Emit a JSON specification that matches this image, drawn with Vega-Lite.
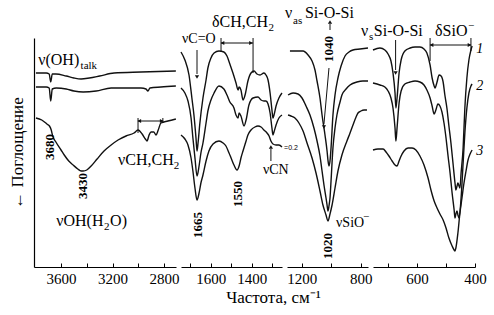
{
  "$schema": "https://vega.github.io/schema/vega-lite/v6.json",
  "padding": {"left": 8, "top": 5, "right": 0, "bottom": 0},
  "background": "white",
  "config": {
    "view": {"stroke": null},
    "axis": {"grid": false, "domainColor": "#000", "tickColor": "#000", "labelColor": "#000", "labelFont": "Liberation Serif", "labelFontSize": 15, "titleFont": "Liberation Serif", "titleFontWeight": "normal", "titleColor": "#000", "domainWidth": 1.2},
    "axisX": {"tickSize": -4, "labelPadding": 8, "labelFlush": false, "labelOverlap": false, "format": "d"},
    "text": {"font": "Liberation Serif", "color": "#000"}
  },
  "datasets": {
    "curves": [
      {"panel":1,"s":1,"f":3795,"y":193},{"panel":1,"s":1,"f":3715,"y":193},{"panel":1,"s":1,"f":3692,"y":192},{"panel":1,"s":1,"f":3680,"y":184},{"panel":1,"s":1,"f":3668,"y":192},{"panel":1,"s":1,"f":3640,"y":192},{"panel":1,"s":1,"f":3560,"y":190},{"panel":1,"s":1,"f":3500,"y":188},{"panel":1,"s":1,"f":3444,"y":187},{"panel":1,"s":1,"f":3380,"y":188},{"panel":1,"s":1,"f":3300,"y":190},{"panel":1,"s":1,"f":3188,"y":193},{"panel":1,"s":1,"f":2979,"y":194},{"panel":1,"s":1,"f":2708,"y":195},
      {"panel":1,"s":2,"f":3795,"y":179},{"panel":1,"s":2,"f":3715,"y":179},{"panel":1,"s":2,"f":3692,"y":178},{"panel":1,"s":2,"f":3680,"y":165},{"panel":1,"s":2,"f":3668,"y":177},{"panel":1,"s":2,"f":3637,"y":178},{"panel":1,"s":2,"f":3560,"y":177},{"panel":1,"s":2,"f":3500,"y":175},{"panel":1,"s":2,"f":3428,"y":174},{"panel":1,"s":2,"f":3327,"y":175},{"panel":1,"s":2,"f":3211,"y":178},{"panel":1,"s":2,"f":2979,"y":178},{"panel":1,"s":2,"f":2940,"y":177},{"panel":1,"s":2,"f":2925,"y":175},{"panel":1,"s":2,"f":2909,"y":178},{"panel":1,"s":2,"f":2824,"y":179},{"panel":1,"s":2,"f":2708,"y":180},
      {"panel":1,"s":3,"f":3795,"y":148},{"panel":1,"s":3,"f":3750,"y":146},{"panel":1,"s":3,"f":3710,"y":142},{"panel":1,"s":3,"f":3690,"y":140},{"panel":1,"s":3,"f":3676,"y":136},{"panel":1,"s":3,"f":3665,"y":130},{"panel":1,"s":3,"f":3640,"y":124},{"panel":1,"s":3,"f":3600,"y":116},{"panel":1,"s":3,"f":3575,"y":111},{"panel":1,"s":3,"f":3540,"y":105},{"panel":1,"s":3,"f":3506,"y":101},{"panel":1,"s":3,"f":3470,"y":97},{"panel":1,"s":3,"f":3444,"y":95},{"panel":1,"s":3,"f":3428,"y":95},{"panel":1,"s":3,"f":3400,"y":96},{"panel":1,"s":3,"f":3366,"y":100},{"panel":1,"s":3,"f":3320,"y":107},{"panel":1,"s":3,"f":3266,"y":115},{"panel":1,"s":3,"f":3211,"y":121},{"panel":1,"s":3,"f":3157,"y":126},{"panel":1,"s":3,"f":3095,"y":130},{"panel":1,"s":3,"f":3033,"y":133},{"panel":1,"s":3,"f":3002,"y":136},{"panel":1,"s":3,"f":2970,"y":132},{"panel":1,"s":3,"f":2945,"y":127},{"panel":1,"s":3,"f":2932,"y":125},{"panel":1,"s":3,"f":2916,"y":131},{"panel":1,"s":3,"f":2901,"y":134},{"panel":1,"s":3,"f":2880,"y":134},{"panel":1,"s":3,"f":2862,"y":131},{"panel":1,"s":3,"f":2845,"y":136},{"panel":1,"s":3,"f":2824,"y":143},{"panel":1,"s":3,"f":2770,"y":145},{"panel":1,"s":3,"f":2708,"y":147},

      {"panel":2,"s":1,"f":1745,"y":214},{"panel":2,"s":1,"f":1726,"y":206},{"panel":2,"s":1,"f":1706,"y":191},{"panel":2,"s":1,"f":1692,"y":168},{"panel":2,"s":1,"f":1682,"y":151},{"panel":2,"s":1,"f":1672,"y":128},{"panel":2,"s":1,"f":1667,"y":115},{"panel":2,"s":1,"f":1662,"y":123},{"panel":2,"s":1,"f":1653,"y":143},{"panel":2,"s":1,"f":1638,"y":168},{"panel":2,"s":1,"f":1623,"y":186},{"panel":2,"s":1,"f":1614,"y":198},{"panel":2,"s":1,"f":1599,"y":208},{"panel":2,"s":1,"f":1584,"y":213},{"panel":2,"s":1,"f":1560,"y":215},{"panel":2,"s":1,"f":1536,"y":214},{"panel":2,"s":1,"f":1521,"y":210},{"panel":2,"s":1,"f":1507,"y":202},{"panel":2,"s":1,"f":1492,"y":193},{"panel":2,"s":1,"f":1477,"y":183},{"panel":2,"s":1,"f":1467,"y":176},{"panel":2,"s":1,"f":1462,"y":179},{"panel":2,"s":1,"f":1453,"y":176},{"panel":2,"s":1,"f":1443,"y":166},{"panel":2,"s":1,"f":1433,"y":171},{"panel":2,"s":1,"f":1419,"y":185},{"panel":2,"s":1,"f":1404,"y":193},{"panel":2,"s":1,"f":1389,"y":195},{"panel":2,"s":1,"f":1375,"y":192},{"panel":2,"s":1,"f":1360,"y":191},{"panel":2,"s":1,"f":1341,"y":193},{"panel":2,"s":1,"f":1331,"y":191},{"panel":2,"s":1,"f":1321,"y":186},{"panel":2,"s":1,"f":1311,"y":173},{"panel":2,"s":1,"f":1302,"y":156},{"panel":2,"s":1,"f":1297,"y":148},{"panel":2,"s":1,"f":1292,"y":151},{"panel":2,"s":1,"f":1282,"y":160},{"panel":2,"s":1,"f":1268,"y":168},{"panel":2,"s":1,"f":1253,"y":173},
      {"panel":2,"s":2,"f":1745,"y":178},{"panel":2,"s":2,"f":1726,"y":173},{"panel":2,"s":2,"f":1711,"y":165},{"panel":2,"s":2,"f":1696,"y":148},{"panel":2,"s":2,"f":1687,"y":128},{"panel":2,"s":2,"f":1677,"y":108},{"panel":2,"s":2,"f":1667,"y":90},{"panel":2,"s":2,"f":1657,"y":100},{"panel":2,"s":2,"f":1648,"y":113},{"panel":2,"s":2,"f":1638,"y":123},{"panel":2,"s":2,"f":1623,"y":143},{"panel":2,"s":2,"f":1614,"y":155},{"panel":2,"s":2,"f":1599,"y":166},{"panel":2,"s":2,"f":1584,"y":173},{"panel":2,"s":2,"f":1560,"y":180},{"panel":2,"s":2,"f":1536,"y":177},{"panel":2,"s":2,"f":1521,"y":171},{"panel":2,"s":2,"f":1507,"y":164},{"panel":2,"s":2,"f":1487,"y":158},{"panel":2,"s":2,"f":1477,"y":151},{"panel":2,"s":2,"f":1467,"y":148},{"panel":2,"s":2,"f":1462,"y":153},{"panel":2,"s":2,"f":1453,"y":150},{"panel":2,"s":2,"f":1438,"y":140},{"panel":2,"s":2,"f":1428,"y":146},{"panel":2,"s":2,"f":1414,"y":161},{"panel":2,"s":2,"f":1394,"y":168},{"panel":2,"s":2,"f":1370,"y":169},{"panel":2,"s":2,"f":1355,"y":166},{"panel":2,"s":2,"f":1341,"y":165},{"panel":2,"s":2,"f":1331,"y":165},{"panel":2,"s":2,"f":1321,"y":162},{"panel":2,"s":2,"f":1311,"y":153},{"panel":2,"s":2,"f":1302,"y":138},{"panel":2,"s":2,"f":1297,"y":131},{"panel":2,"s":2,"f":1292,"y":134},{"panel":2,"s":2,"f":1282,"y":141},{"panel":2,"s":2,"f":1268,"y":148},{"panel":2,"s":2,"f":1253,"y":151},
      {"panel":2,"s":3,"f":1745,"y":131},{"panel":2,"s":3,"f":1726,"y":127},{"panel":2,"s":3,"f":1711,"y":121},{"panel":2,"s":3,"f":1696,"y":108},{"panel":2,"s":3,"f":1687,"y":95},{"panel":2,"s":3,"f":1677,"y":78},{"panel":2,"s":3,"f":1667,"y":66},{"panel":2,"s":3,"f":1657,"y":73},{"panel":2,"s":3,"f":1648,"y":83},{"panel":2,"s":3,"f":1638,"y":91},{"panel":2,"s":3,"f":1623,"y":105},{"panel":2,"s":3,"f":1609,"y":115},{"panel":2,"s":3,"f":1589,"y":122},{"panel":2,"s":3,"f":1560,"y":125},{"panel":2,"s":3,"f":1540,"y":123},{"panel":2,"s":3,"f":1526,"y":120},{"panel":2,"s":3,"f":1511,"y":113},{"panel":2,"s":3,"f":1501,"y":108},{"panel":2,"s":3,"f":1487,"y":101},{"panel":2,"s":3,"f":1472,"y":96},{"panel":2,"s":3,"f":1462,"y":100},{"panel":2,"s":3,"f":1453,"y":108},{"panel":2,"s":3,"f":1443,"y":115},{"panel":2,"s":3,"f":1428,"y":125},{"panel":2,"s":3,"f":1419,"y":131},{"panel":2,"s":3,"f":1404,"y":136},{"panel":2,"s":3,"f":1385,"y":139},{"panel":2,"s":3,"f":1370,"y":140},{"panel":2,"s":3,"f":1355,"y":139},{"panel":2,"s":3,"f":1341,"y":136},{"panel":2,"s":3,"f":1326,"y":133},{"panel":2,"s":3,"f":1316,"y":130},{"panel":2,"s":3,"f":1307,"y":125},{"panel":2,"s":3,"f":1297,"y":122},{"panel":2,"s":3,"f":1282,"y":121},{"panel":2,"s":3,"f":1268,"y":121},{"panel":2,"s":3,"f":1253,"y":119},

      {"panel":3,"s":1,"f":1280,"y":215},{"panel":3,"s":1,"f":1239,"y":215},{"panel":3,"s":1,"f":1191,"y":215},{"panel":3,"s":1,"f":1157,"y":211},{"panel":3,"s":1,"f":1130,"y":205},{"panel":3,"s":1,"f":1110,"y":196},{"panel":3,"s":1,"f":1096,"y":185},{"panel":3,"s":1,"f":1076,"y":168},{"panel":3,"s":1,"f":1062,"y":151},{"panel":3,"s":1,"f":1042,"y":131},{"panel":3,"s":1,"f":1028,"y":115},{"panel":3,"s":1,"f":1022,"y":106},{"panel":3,"s":1,"f":1015,"y":100},{"panel":3,"s":1,"f":1008,"y":105},{"panel":3,"s":1,"f":1001,"y":118},{"panel":3,"s":1,"f":988,"y":151},{"panel":3,"s":1,"f":974,"y":171},{"panel":3,"s":1,"f":954,"y":188},{"panel":3,"s":1,"f":933,"y":200},{"panel":3,"s":1,"f":906,"y":210},{"panel":3,"s":1,"f":879,"y":214},{"panel":3,"s":1,"f":852,"y":216},{"panel":3,"s":1,"f":804,"y":217},{"panel":3,"s":1,"f":750,"y":218},
      {"panel":3,"s":2,"f":1293,"y":171},{"panel":3,"s":2,"f":1259,"y":173},{"panel":3,"s":2,"f":1225,"y":172},{"panel":3,"s":2,"f":1198,"y":168},{"panel":3,"s":2,"f":1171,"y":160},{"panel":3,"s":2,"f":1144,"y":151},{"panel":3,"s":2,"f":1117,"y":138},{"panel":3,"s":2,"f":1096,"y":125},{"panel":3,"s":2,"f":1076,"y":110},{"panel":3,"s":2,"f":1062,"y":95},{"panel":3,"s":2,"f":1049,"y":81},{"panel":3,"s":2,"f":1035,"y":68},{"panel":3,"s":2,"f":1028,"y":61},{"panel":3,"s":2,"f":1022,"y":55},{"panel":3,"s":2,"f":1015,"y":60},{"panel":3,"s":2,"f":1008,"y":68},{"panel":3,"s":2,"f":1001,"y":85},{"panel":3,"s":2,"f":988,"y":118},{"panel":3,"s":2,"f":974,"y":138},{"panel":3,"s":2,"f":961,"y":151},{"panel":3,"s":2,"f":940,"y":164},{"panel":3,"s":2,"f":927,"y":171},{"panel":3,"s":2,"f":899,"y":177},{"panel":3,"s":2,"f":872,"y":181},{"panel":3,"s":2,"f":825,"y":184},{"panel":3,"s":2,"f":784,"y":185},{"panel":3,"s":2,"f":750,"y":185},
      {"panel":3,"s":3,"f":1293,"y":151},{"panel":3,"s":3,"f":1273,"y":150},{"panel":3,"s":3,"f":1246,"y":148},{"panel":3,"s":3,"f":1219,"y":143},{"panel":3,"s":3,"f":1191,"y":135},{"panel":3,"s":3,"f":1164,"y":123},{"panel":3,"s":3,"f":1130,"y":108},{"panel":3,"s":3,"f":1103,"y":93},{"panel":3,"s":3,"f":1076,"y":75},{"panel":3,"s":3,"f":1056,"y":61},{"panel":3,"s":3,"f":1035,"y":51},{"panel":3,"s":3,"f":1022,"y":45},{"panel":3,"s":3,"f":1008,"y":52},{"panel":3,"s":3,"f":994,"y":61},{"panel":3,"s":3,"f":974,"y":78},{"panel":3,"s":3,"f":954,"y":95},{"panel":3,"s":3,"f":927,"y":111},{"panel":3,"s":3,"f":893,"y":125},{"panel":3,"s":3,"f":872,"y":133},{"panel":3,"s":3,"f":852,"y":141},{"panel":3,"s":3,"f":831,"y":149},{"panel":3,"s":3,"f":818,"y":153},{"panel":3,"s":3,"f":798,"y":155},{"panel":3,"s":3,"f":777,"y":156},{"panel":3,"s":3,"f":757,"y":156},

      {"panel":4,"s":1,"f":752,"y":216},{"panel":4,"s":1,"f":728,"y":218},{"panel":4,"s":1,"f":711,"y":216},{"panel":4,"s":1,"f":700,"y":212},{"panel":4,"s":1,"f":690,"y":205},{"panel":4,"s":1,"f":683,"y":193},{"panel":4,"s":1,"f":676,"y":173},{"panel":4,"s":1,"f":673,"y":158},{"panel":4,"s":1,"f":669,"y":168},{"panel":4,"s":1,"f":662,"y":193},{"panel":4,"s":1,"f":655,"y":206},{"panel":4,"s":1,"f":642,"y":215},{"panel":4,"s":1,"f":624,"y":218},{"panel":4,"s":1,"f":607,"y":219},{"panel":4,"s":1,"f":590,"y":219},{"panel":4,"s":1,"f":576,"y":217},{"panel":4,"s":1,"f":566,"y":213},{"panel":4,"s":1,"f":555,"y":201},{"panel":4,"s":1,"f":548,"y":188},{"panel":4,"s":1,"f":541,"y":180},{"panel":4,"s":1,"f":538,"y":178},{"panel":4,"s":1,"f":531,"y":184},{"panel":4,"s":1,"f":524,"y":191},{"panel":4,"s":1,"f":517,"y":190},{"panel":4,"s":1,"f":510,"y":184},{"panel":4,"s":1,"f":504,"y":171},{"panel":4,"s":1,"f":497,"y":158},{"panel":4,"s":1,"f":490,"y":140},{"panel":4,"s":1,"f":483,"y":123},{"panel":4,"s":1,"f":476,"y":103},{"panel":4,"s":1,"f":469,"y":83},{"panel":4,"s":1,"f":466,"y":76},{"panel":4,"s":1,"f":462,"y":80},{"panel":4,"s":1,"f":459,"y":83},{"panel":4,"s":1,"f":455,"y":80},{"panel":4,"s":1,"f":452,"y":78},{"panel":4,"s":1,"f":448,"y":93},{"panel":4,"s":1,"f":441,"y":118},{"panel":4,"s":1,"f":435,"y":158},{"panel":4,"s":1,"f":428,"y":188},{"panel":4,"s":1,"f":421,"y":206},{"panel":4,"s":1,"f":414,"y":216},{"panel":4,"s":1,"f":410,"y":220},
      {"panel":4,"s":2,"f":752,"y":183},{"panel":4,"s":2,"f":728,"y":181},{"panel":4,"s":2,"f":711,"y":179},{"panel":4,"s":2,"f":700,"y":175},{"panel":4,"s":2,"f":690,"y":168},{"panel":4,"s":2,"f":683,"y":158},{"panel":4,"s":2,"f":676,"y":138},{"panel":4,"s":2,"f":673,"y":125},{"panel":4,"s":2,"f":669,"y":138},{"panel":4,"s":2,"f":662,"y":163},{"panel":4,"s":2,"f":655,"y":175},{"panel":4,"s":2,"f":642,"y":182},{"panel":4,"s":2,"f":624,"y":184},{"panel":4,"s":2,"f":607,"y":185},{"panel":4,"s":2,"f":590,"y":184},{"panel":4,"s":2,"f":576,"y":181},{"panel":4,"s":2,"f":566,"y":176},{"panel":4,"s":2,"f":555,"y":168},{"panel":4,"s":2,"f":548,"y":160},{"panel":4,"s":2,"f":541,"y":152},{"panel":4,"s":2,"f":535,"y":156},{"panel":4,"s":2,"f":528,"y":162},{"panel":4,"s":2,"f":521,"y":160},{"panel":4,"s":2,"f":514,"y":154},{"panel":4,"s":2,"f":507,"y":143},{"panel":4,"s":2,"f":500,"y":128},{"panel":4,"s":2,"f":493,"y":110},{"panel":4,"s":2,"f":486,"y":93},{"panel":4,"s":2,"f":479,"y":73},{"panel":4,"s":2,"f":472,"y":56},{"panel":4,"s":2,"f":469,"y":48},{"panel":4,"s":2,"f":466,"y":52},{"panel":4,"s":2,"f":462,"y":55},{"panel":4,"s":2,"f":459,"y":51},{"panel":4,"s":2,"f":455,"y":48},{"panel":4,"s":2,"f":448,"y":68},{"panel":4,"s":2,"f":441,"y":103},{"panel":4,"s":2,"f":435,"y":133},{"panel":4,"s":2,"f":428,"y":158},{"panel":4,"s":2,"f":421,"y":173},{"panel":4,"s":2,"f":414,"y":180},{"panel":4,"s":2,"f":410,"y":182},
      {"panel":4,"s":3,"f":752,"y":116},{"panel":4,"s":3,"f":735,"y":117},{"panel":4,"s":3,"f":717,"y":117},{"panel":4,"s":3,"f":707,"y":114},{"panel":4,"s":3,"f":697,"y":110},{"panel":4,"s":3,"f":686,"y":105},{"panel":4,"s":3,"f":676,"y":101},{"panel":4,"s":3,"f":669,"y":100},{"panel":4,"s":3,"f":662,"y":105},{"panel":4,"s":3,"f":655,"y":110},{"panel":4,"s":3,"f":645,"y":115},{"panel":4,"s":3,"f":631,"y":118},{"panel":4,"s":3,"f":617,"y":118},{"panel":4,"s":3,"f":604,"y":116},{"panel":4,"s":3,"f":590,"y":110},{"panel":4,"s":3,"f":576,"y":101},{"panel":4,"s":3,"f":562,"y":88},{"panel":4,"s":3,"f":552,"y":76},{"panel":4,"s":3,"f":541,"y":65},{"panel":4,"s":3,"f":531,"y":58},{"panel":4,"s":3,"f":521,"y":52},{"panel":4,"s":3,"f":510,"y":46},{"panel":4,"s":3,"f":500,"y":38},{"panel":4,"s":3,"f":490,"y":28},{"panel":4,"s":3,"f":479,"y":20},{"panel":4,"s":3,"f":472,"y":16},{"panel":4,"s":3,"f":469,"y":15},{"panel":4,"s":3,"f":466,"y":18},{"panel":4,"s":3,"f":459,"y":33},{"panel":4,"s":3,"f":452,"y":53},{"panel":4,"s":3,"f":445,"y":68},{"panel":4,"s":3,"f":438,"y":83},{"panel":4,"s":3,"f":431,"y":95},{"panel":4,"s":3,"f":424,"y":106},{"panel":4,"s":3,"f":417,"y":112},{"panel":4,"s":3,"f":410,"y":116}
    ],
    "labels": [
      {"panel":1,"f":3777,"y":201,"text":"ν(OH)"},
      {"panel":1,"f":3637,"y":40,"text":"νOH(H"},
      {"panel":1,"f":3219,"y":40,"text":"O)"},
      {"panel":1,"f":3157,"y":101,"text":"νCH,CH"},
      {"panel":2,"f":1594,"y":239,"text":"δCH,CH"},
      {"panel":3,"f":1314,"y":248,"text":"ν"},
      {"panel":3,"f":1178,"y":248,"text":"Si-O-Si"},
      {"panel":4,"f":793,"y":230,"text":"ν"},
      {"panel":4,"f":749,"y":230,"text":"Si-O-Si"},
      {"panel":4,"f":538,"y":230,"text":"δSiO"}
    ],
    "smallLabels": [
      {"panel":2,"f":1740,"y":223,"text":"νC=O"},
      {"panel":2,"f":1346,"y":92,"text":"νCN"},
      {"panel":3,"f":967,"y":39,"text":"νSiO"}
    ],
    "subs": [
      {"panel":1,"f":3448,"y":197,"text":"talk"},
      {"panel":1,"f":3266,"y":36,"text":"2"},
      {"panel":1,"f":2725,"y":97,"text":"2"},
      {"panel":2,"f":1319,"y":235,"text":"2"},
      {"panel":3,"f":1259,"y":242,"text":"as"},
      {"panel":4,"f":766,"y":226,"text":"s"},
      {"panel":3,"f":784,"y":46,"text":"−"},
      {"panel":4,"f":424,"y":237,"text":"−"}
    ],
    "peaks": [
      {"panel":1,"f":3684,"y":119,"text":"3680"},
      {"panel":1,"f":3428,"y":80,"text":"3430"},
      {"panel":2,"f":1662,"y":41,"text":"1665"},
      {"panel":2,"f":1467,"y":72,"text":"1550"},
      {"panel":3,"f":1015,"y":217,"text":"1040"},
      {"panel":3,"f":1022,"y":20,"text":"1020"}
    ],
    "ids": [
      {"panel":4,"f":396,"y":213,"text":"1"},
      {"panel":4,"f":396,"y":176,"text":"2"},
      {"panel":4,"f":396,"y":111,"text":"3"}
    ],
    "scale": [
      {"panel":2,"f":1243,"y":118,"text":"=0.2"}
    ],
    "segs": [
      {"panel":1,"f":3002,"f2":2809,"y":145,"y2":145},
      {"panel":1,"f":3002,"f2":3002,"y":148,"y2":133},
      {"panel":1,"f":2809,"f2":2809,"y":148,"y2":143},
      {"panel":2,"f":1667,"f2":1667,"y":216,"y2":192},
      {"panel":2,"f":1550,"f2":1394,"y":223,"y2":223},
      {"panel":2,"f":1550,"f2":1550,"y":228,"y2":214},
      {"panel":2,"f":1394,"f2":1394,"y":228,"y2":193},
      {"panel":2,"f":1307,"f2":1307,"y":105,"y2":117},
      {"panel":3,"f":1008,"f2":1008,"y":236,"y2":242},
      {"panel":3,"f":1015,"f2":1049,"y":198,"y2":142},
      {"panel":4,"f":674,"f2":674,"y":226,"y2":196},
      {"panel":4,"f":555,"f2":414,"y":221,"y2":221},
      {"panel":4,"f":555,"f2":555,"y":228,"y2":205},
      {"panel":4,"f":414,"f2":414,"y":228,"y2":215}
    ],
    "headsDown": [
      {"panel":2,"f":1667,"y":189},
      {"panel":3,"f":1049,"y":139},
      {"panel":4,"f":674,"y":193}
    ],
    "headsUp": [
      {"panel":2,"f":1307,"y":119},
      {"panel":3,"f":1008,"y":244}
    ],
    "headsLeft": [
      {"panel":1,"f":2992,"y":145},
      {"panel":2,"f":1543,"y":223},
      {"panel":4,"f":550,"y":221}
    ],
    "headsRight": [
      {"panel":1,"f":2818,"y":145},
      {"panel":2,"f":1404,"y":223},
      {"panel":4,"f":419,"y":221}
    ]
  },
  "spacing": 5,
  "bounds": "flush",
  "hconcat": [
    {
      "width": 142, "height": 229,
      "encoding": {
        "x": {"field": "f", "type": "quantitative", "scale": {"domain": [3810, 2707], "nice": false, "zero": false},
              "axis": {"values": [3600, 3400, 3200, 3000, 2800], "labelExpr": "datum.value % 400 == 0 ? datum.label : ''", "title": null}},
        "y": {"field": "y", "type": "quantitative", "scale": {"domain": [-1, 228], "nice": false, "zero": false},
              "axis": {"title": "← Поглощение", "ticks": false, "labels": false, "domain": true, "titleFontSize": 17, "titlePadding": 8}}
      },
      "layer": [
        {"data": {"name": "curves"}, "transform": [{"filter": "datum.panel == 1"}], "mark": {"type": "line", "color": "#111", "strokeWidth": 1.4, "interpolate": "monotone"}, "encoding": {"detail": {"field": "s"}}},
        {"data": {"name": "segs"}, "transform": [{"filter": "datum.panel == 1"}], "mark": {"type": "rule", "color": "#111", "strokeWidth": 1}, "encoding": {"x2": {"field": "f2"}, "y2": {"field": "y2"}}},
        {"data": {"name": "headsLeft"}, "transform": [{"filter": "datum.panel == 1"}], "mark": {"type": "point", "shape": "triangle-left", "filled": true, "color": "#111", "size": 18, "opacity": 1}, "encoding": {}},
        {"data": {"name": "headsRight"}, "transform": [{"filter": "datum.panel == 1"}], "mark": {"type": "point", "shape": "triangle-right", "filled": true, "color": "#111", "size": 18, "opacity": 1}, "encoding": {}},
        {"data": {"name": "labels"}, "transform": [{"filter": "datum.panel == 1"}], "mark": {"type": "text", "fontSize": 16, "align": "left", "baseline": "alphabetic"}, "encoding": {"text": {"field": "text"}}},
        {"data": {"name": "subs"}, "transform": [{"filter": "datum.panel == 1"}], "mark": {"type": "text", "fontSize": 11, "align": "left", "baseline": "alphabetic"}, "encoding": {"text": {"field": "text"}}},
        {"data": {"name": "peaks"}, "transform": [{"filter": "datum.panel == 1"}], "mark": {"type": "text", "fontSize": 13, "fontWeight": "bold", "angle": 270, "align": "center", "baseline": "middle"}, "encoding": {"text": {"field": "text"}}}
      ]
    },
    {
      "width": 101, "height": 229,
      "encoding": {
        "x": {"field": "f", "type": "quantitative", "scale": {"domain": [1745, 1253], "nice": false, "zero": false},
              "axis": {"values": [1700, 1600, 1500, 1400, 1300], "labelExpr": "datum.value % 200 == 0 ? datum.label : ''", "title": "Частота, см⁻¹", "titleFontSize": 17, "titleX": 92, "titleAlign": "center", "titlePadding": 3}},
        "y": {"field": "y", "type": "quantitative", "scale": {"domain": [-1, 228], "nice": false, "zero": false}, "axis": null}
      },
      "layer": [
        {"data": {"name": "curves"}, "transform": [{"filter": "datum.panel == 2"}], "mark": {"type": "line", "color": "#111", "strokeWidth": 1.4, "interpolate": "monotone"}, "encoding": {"detail": {"field": "s"}}},
        {"data": {"name": "segs"}, "transform": [{"filter": "datum.panel == 2"}], "mark": {"type": "rule", "color": "#111", "strokeWidth": 1}, "encoding": {"x2": {"field": "f2"}, "y2": {"field": "y2"}}},
        {"data": {"name": "headsLeft"}, "transform": [{"filter": "datum.panel == 2"}], "mark": {"type": "point", "shape": "triangle-left", "filled": true, "color": "#111", "size": 18, "opacity": 1}, "encoding": {}},
        {"data": {"name": "headsRight"}, "transform": [{"filter": "datum.panel == 2"}], "mark": {"type": "point", "shape": "triangle-right", "filled": true, "color": "#111", "size": 18, "opacity": 1}, "encoding": {}},
        {"data": {"name": "headsDown"}, "transform": [{"filter": "datum.panel == 2"}], "mark": {"type": "point", "shape": "triangle-down", "filled": true, "color": "#111", "size": 18, "opacity": 1}, "encoding": {}},
        {"data": {"name": "headsUp"}, "transform": [{"filter": "datum.panel == 2"}], "mark": {"type": "point", "shape": "triangle-up", "filled": true, "color": "#111", "size": 18, "opacity": 1}, "encoding": {}},
        {"data": {"name": "labels"}, "transform": [{"filter": "datum.panel == 2"}], "mark": {"type": "text", "fontSize": 16, "align": "left", "baseline": "alphabetic"}, "encoding": {"text": {"field": "text"}}},
        {"data": {"name": "smallLabels"}, "transform": [{"filter": "datum.panel == 2"}], "mark": {"type": "text", "fontSize": 14, "align": "left", "baseline": "alphabetic"}, "encoding": {"text": {"field": "text"}}},
        {"data": {"name": "subs"}, "transform": [{"filter": "datum.panel == 2"}], "mark": {"type": "text", "fontSize": 11, "align": "left", "baseline": "alphabetic"}, "encoding": {"text": {"field": "text"}}},
        {"data": {"name": "peaks"}, "transform": [{"filter": "datum.panel == 2"}], "mark": {"type": "text", "fontSize": 13, "fontWeight": "bold", "angle": 270, "align": "center", "baseline": "middle"}, "encoding": {"text": {"field": "text"}}},
        {"data": {"name": "scale"}, "transform": [{"filter": "datum.panel == 2"}], "mark": {"type": "text", "fontSize": 7, "font": "Liberation Sans", "align": "left", "baseline": "middle"}, "encoding": {"text": {"field": "text"}}}
      ]
    },
    {
      "width": 81, "height": 229,
      "encoding": {
        "x": {"field": "f", "type": "quantitative", "scale": {"domain": [1300, 750], "nice": false, "zero": false},
              "axis": {"values": [1200, 1000, 800], "labelExpr": "datum.value == 1000 ? '' : datum.label", "title": null}},
        "y": {"field": "y", "type": "quantitative", "scale": {"domain": [-1, 228], "nice": false, "zero": false}, "axis": null}
      },
      "layer": [
        {"data": {"name": "curves"}, "transform": [{"filter": "datum.panel == 3"}], "mark": {"type": "line", "color": "#111", "strokeWidth": 1.4, "interpolate": "monotone"}, "encoding": {"detail": {"field": "s"}}},
        {"data": {"name": "segs"}, "transform": [{"filter": "datum.panel == 3"}], "mark": {"type": "rule", "color": "#111", "strokeWidth": 1}, "encoding": {"x2": {"field": "f2"}, "y2": {"field": "y2"}}},
        {"data": {"name": "headsDown"}, "transform": [{"filter": "datum.panel == 3"}], "mark": {"type": "point", "shape": "triangle-down", "filled": true, "color": "#111", "size": 18, "opacity": 1}, "encoding": {}},
        {"data": {"name": "headsUp"}, "transform": [{"filter": "datum.panel == 3"}], "mark": {"type": "point", "shape": "triangle-up", "filled": true, "color": "#111", "size": 18, "opacity": 1}, "encoding": {}},
        {"data": {"name": "labels"}, "transform": [{"filter": "datum.panel == 3"}], "mark": {"type": "text", "fontSize": 16, "align": "left", "baseline": "alphabetic"}, "encoding": {"text": {"field": "text"}}},
        {"data": {"name": "smallLabels"}, "transform": [{"filter": "datum.panel == 3"}], "mark": {"type": "text", "fontSize": 14, "align": "left", "baseline": "alphabetic"}, "encoding": {"text": {"field": "text"}}},
        {"data": {"name": "subs"}, "transform": [{"filter": "datum.panel == 3"}], "mark": {"type": "text", "fontSize": 11, "align": "left", "baseline": "alphabetic"}, "encoding": {"text": {"field": "text"}}},
        {"data": {"name": "peaks"}, "transform": [{"filter": "datum.panel == 3"}], "mark": {"type": "text", "fontSize": 13, "fontWeight": "bold", "angle": 270, "align": "center", "baseline": "middle"}, "encoding": {"text": {"field": "text"}}}
      ]
    },
    {
      "width": 102, "height": 229,
      "encoding": {
        "x": {"field": "f", "type": "quantitative", "scale": {"domain": [752, 400], "nice": false, "zero": false},
              "axis": {"values": [700, 600, 500, 400], "labelExpr": "datum.value % 200 == 0 ? datum.label : ''", "title": null}},
        "y": {"field": "y", "type": "quantitative", "scale": {"domain": [-1, 228], "nice": false, "zero": false}, "axis": null}
      },
      "layer": [
        {"data": {"name": "curves"}, "transform": [{"filter": "datum.panel == 4"}], "mark": {"type": "line", "color": "#111", "strokeWidth": 1.4, "interpolate": "monotone"}, "encoding": {"detail": {"field": "s"}}},
        {"data": {"name": "segs"}, "transform": [{"filter": "datum.panel == 4"}], "mark": {"type": "rule", "color": "#111", "strokeWidth": 1}, "encoding": {"x2": {"field": "f2"}, "y2": {"field": "y2"}}},
        {"data": {"name": "headsLeft"}, "transform": [{"filter": "datum.panel == 4"}], "mark": {"type": "point", "shape": "triangle-left", "filled": true, "color": "#111", "size": 18, "opacity": 1}, "encoding": {}},
        {"data": {"name": "headsRight"}, "transform": [{"filter": "datum.panel == 4"}], "mark": {"type": "point", "shape": "triangle-right", "filled": true, "color": "#111", "size": 18, "opacity": 1}, "encoding": {}},
        {"data": {"name": "headsDown"}, "transform": [{"filter": "datum.panel == 4"}], "mark": {"type": "point", "shape": "triangle-down", "filled": true, "color": "#111", "size": 18, "opacity": 1}, "encoding": {}},
        {"data": {"name": "labels"}, "transform": [{"filter": "datum.panel == 4"}], "mark": {"type": "text", "fontSize": 16, "align": "left", "baseline": "alphabetic"}, "encoding": {"text": {"field": "text"}}},
        {"data": {"name": "subs"}, "transform": [{"filter": "datum.panel == 4"}], "mark": {"type": "text", "fontSize": 11, "align": "left", "baseline": "alphabetic"}, "encoding": {"text": {"field": "text"}}},
        {"data": {"name": "ids"}, "transform": [{"filter": "datum.panel == 4"}], "mark": {"type": "text", "fontSize": 14, "fontStyle": "italic", "align": "left", "baseline": "alphabetic"}, "encoding": {"text": {"field": "text"}}}
      ]
    }
  ]
}
